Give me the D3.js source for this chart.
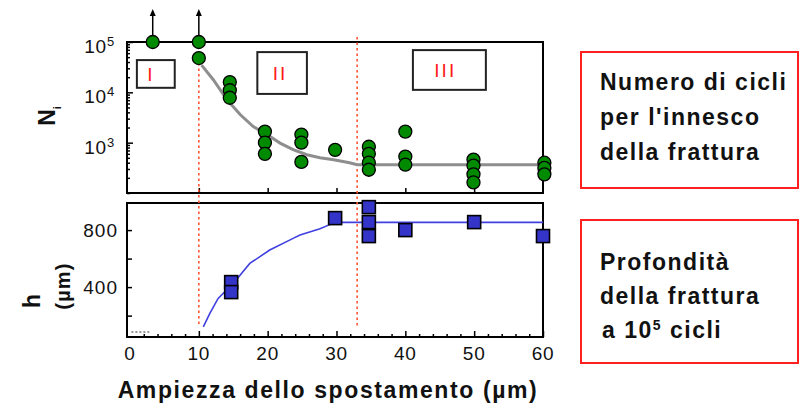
<!DOCTYPE html>
<html><head><meta charset="utf-8">
<script src="https://cdn.jsdelivr.net/npm/d3@7"></script>
<style>body{margin:0;background:#fff}svg{display:block}</style>
</head><body>
<svg id="c" width="801" height="409"></svg>
<script>
// ---------- data ----------
const cyclesX = [3.3, 10, 10, 14.5, 14.5, 14.5, 19.6, 19.6, 19.6, 24.9, 24.9, 24.9, 29.8, 34.7, 34.7, 34.7, 34.7, 40, 40, 40, 49.9, 49.9, 49.9, 49.9, 60.2, 60.2, 60.2];
const cyclesN = [1e5, 1e5, 48000, 16000, 11000, 7800, 1660, 1000, 600, 1450, 1000, 415, 720, 830, 600, 400, 290, 1660, 530, 365, 460, 350, 235, 162, 400, 315, 235];
const runoutX = [3.3, 10];
const runoutN = [1e5, 1e5];
const fitNX = [10.4, 12.1, 14.1, 16.0, 17.9, 19.9, 21.8, 23.7, 25.7, 27.6, 29.6, 31.9, 33.0, 60.2];
const fitNY = [34700, 17800, 7100, 3630, 2090, 1450, 980, 725, 575, 500, 457, 400, 365, 365];
const depthX = [14.7, 14.7, 29.8, 34.7, 34.7, 34.7, 40, 50, 60];
const depthH = [435, 365, 884, 961, 856, 758, 800, 856, 758];
const fitHX = [10.65, 11.6, 12.8, 15.0, 17.4, 20.3, 23.7, 24.7, 27.6, 29.1, 30.0, 60];
const fitHY = [121, 215, 321, 426, 566, 660, 742, 765, 810, 840, 854, 854];
const xTicks = [0, 10, 20, 30, 40, 50, 60];
const xTickLabels = ["0", "10", "20", "30", "40", "50", "60"];
const nTicks = [1e3, 1e4, 1e5];
const nTickExp = ["3", "4", "5"];
const hTicks = [400, 800];
const hTickLabels = ["400", "800"];
const hMinor = [200, 600];
const regionNames = ["I", "II", "III"];
const regionX0 = [1.0, 18.5, 41.1];
const regionX1 = [6.5, 25.7, 51.7];
const regionN0 = [43700, 63000, 69000];
const regionN1 = [12300, 9300, 11200];
const regionLabelX = [3.05, 21.8, 45.8];
const boundaryX = [10.0, 33.0];
const xTitle = "Ampiezza dello spostamento (\u00b5m)";
const box1Lines = ["Numero di cicli", "per l'innesco", "della frattura"];
const box2Lines = ["Profondit\u00e0", "della frattura"];

// ---------- layout ----------
const svg = d3.select("#c");
const L = 127, R = 543;
const topY0 = 42, topY1 = 193, botY0 = 203, botY1 = 337;
const x = d3.scaleLinear().domain([0, 60]).range([130, 543]);
const yN = d3.scaleLog().domain([100, 1e5]).range([topY1, topY0]);
const yH = d3.scaleLinear().domain([50, 990]).range([botY1, botY0]);
const FONT = "'Liberation Sans', Arial, sans-serif";

// frames
svg.append("rect").attr("x", L).attr("y", topY0).attr("width", R - L).attr("height", topY1 - topY0)
  .attr("fill", "none").attr("stroke", "#000").attr("stroke-width", 2);
svg.append("rect").attr("x", L).attr("y", botY0).attr("width", R - L).attr("height", botY1 - botY0)
  .attr("fill", "none").attr("stroke", "#000").attr("stroke-width", 2);

// ---------- axes (ticks inward) ----------
function styleAxis(g) {
  g.select(".domain").remove();
  g.selectAll("line").attr("stroke", "#000").attr("stroke-width", 1.5);
  g.selectAll("text").remove();
}
// top panel log axis
const allLog = yN.ticks();
const minorLog = allLog.filter(v => nTicks.indexOf(v) < 0);
svg.append("g").attr("transform", `translate(${L},0)`)
  .call(d3.axisLeft(yN).tickValues(minorLog).tickSizeInner(-3).tickSizeOuter(0)).call(styleAxis);
svg.append("g").attr("transform", `translate(${L},0)`)
  .call(d3.axisLeft(yN).tickValues(nTicks).tickSizeInner(-6).tickSizeOuter(0)).call(styleAxis);
svg.append("g").attr("transform", `translate(0,${topY1})`)
  .call(d3.axisBottom(x).tickValues([10, 20, 30, 40, 50]).tickSizeInner(-5).tickSizeOuter(0)).call(styleAxis);
// bottom panel
svg.append("g").attr("transform", `translate(${L},0)`)
  .call(d3.axisLeft(yH).tickValues(hTicks.concat(hMinor)).tickSizeInner(-5).tickSizeOuter(0)).call(styleAxis);
const minorX = d3.range(2, 60, 2).filter(v => v % 10 !== 0);
svg.append("g").attr("transform", `translate(0,${botY1})`)
  .call(d3.axisBottom(x).tickValues(minorX).tickSizeInner(-3).tickSizeOuter(0)).call(styleAxis);
svg.append("g").attr("transform", `translate(0,${botY1})`)
  .call(d3.axisBottom(x).tickValues(xTicks.slice(1)).tickSizeInner(-6).tickSizeOuter(0)).call(styleAxis);

// tick labels
const tickFont = 19;
xTicks.forEach((v, i) => {
  svg.append("text").attr("x", x(v)).attr("y", 360).attr("text-anchor", "middle")
    .attr("font-family", FONT).attr("font-size", tickFont).attr("letter-spacing", 0.8)
    .attr("fill", "#111").text(xTickLabels[i]);
});
nTicks.forEach((v, i) => {
  const t = svg.append("text").attr("x", 115).attr("y", yN(v) + 11).attr("text-anchor", "end")
    .attr("font-family", FONT).attr("font-size", tickFont).attr("fill", "#111").attr("letter-spacing", 0.8);
  t.append("tspan").text("10");
  t.append("tspan").attr("font-size", 13).attr("dy", -7).text(nTickExp[i]);
});
hTicks.forEach((v, i) => {
  svg.append("text").attr("x", 118).attr("y", yH(v) + 7).attr("text-anchor", "end")
    .attr("font-family", FONT).attr("font-size", tickFont).attr("letter-spacing", 1)
    .attr("fill", "#111").text(hTickLabels[i]);
});

// axis titles
svg.append("text").attr("x", 328).attr("y", 398).attr("text-anchor", "middle")
  .attr("font-family", FONT).attr("font-weight", "bold").attr("font-size", 23)
  .attr("letter-spacing", 1.6).attr("fill", "#111").text(xTitle);
const nl = svg.append("text").attr("transform", "translate(55,116) rotate(-90)").attr("text-anchor", "middle")
  .attr("font-family", FONT).attr("font-weight", "bold").attr("font-size", 23).attr("fill", "#111");
nl.append("tspan").text("N");
nl.append("tspan").attr("font-size", 11).attr("dy", 6).text("i");
svg.append("text").attr("transform", "translate(40,301) rotate(-90)").attr("text-anchor", "middle")
  .attr("font-family", FONT).attr("font-weight", "bold").attr("font-size", 23).attr("fill", "#111").text("h");
svg.append("text").attr("transform", "translate(70,286) rotate(-90)").attr("text-anchor", "middle")
  .attr("font-family", FONT).attr("font-weight", "bold").attr("font-size", 20).attr("letter-spacing", 1.2)
  .attr("fill", "#111").text("(\u00b5m)");

// region boxes
regionNames.forEach((nm, i) => {
  svg.append("rect").attr("x", x(regionX0[i])).attr("y", yN(regionN0[i]))
    .attr("width", x(regionX1[i]) - x(regionX0[i])).attr("height", yN(regionN1[i]) - yN(regionN0[i]))
    .attr("fill", "#fff").attr("stroke", "#222").attr("stroke-width", 2);
  svg.append("text").attr("x", x(regionLabelX[i])).attr("y", (yN(regionN0[i]) + yN(regionN1[i])) / 2 + 7)
    .attr("text-anchor", "middle").attr("font-family", FONT).attr("font-size", 19).attr("letter-spacing", 2)
    .attr("fill", "#ff1a1a").text(nm);
});

// boundary dotted lines
svg.append("line").attr("x1", x(boundaryX[0])).attr("x2", x(boundaryX[0])).attr("y1", 63).attr("y2", 327)
  .attr("stroke", "#ff5533").attr("stroke-width", 1.6).attr("stroke-dasharray", "2.5,3");
svg.append("line").attr("x1", x(boundaryX[1])).attr("x2", x(boundaryX[1])).attr("y1", 37).attr("y2", 327)
  .attr("stroke", "#ff5533").attr("stroke-width", 1.6).attr("stroke-dasharray", "2.5,3");

// fit curves
const lineN = d3.line().x(d => x(d[0])).y(d => yN(d[1]));
svg.append("path").datum(d3.zip(fitNX, fitNY)).attr("d", lineN)
  .attr("fill", "none").attr("stroke", "#8e8e8e").attr("stroke-width", 3);
const lineH = d3.line().x(d => x(d[0])).y(d => yH(d[1]));
svg.append("path").datum(d3.zip(fitHX, fitHY)).attr("d", lineH)
  .attr("fill", "none").attr("stroke", "#4040e0").attr("stroke-width", 1.6);
// small artifact at origin
svg.append("path").datum([[0.2, 85], [2.8, 85]]).attr("d", lineH)
  .attr("fill", "none").attr("stroke", "#333").attr("stroke-width", 1.2).attr("stroke-dasharray", "2,2");

// run-out arrows
runoutX.forEach((v, i) => {
  const px = x(v), py = yN(runoutN[i]);
  svg.append("line").attr("x1", px).attr("x2", px).attr("y1", py).attr("y2", py - 30)
    .attr("stroke", "#000").attr("stroke-width", 1.5);
  svg.append("path").attr("d", `M${px - 3},${py - 26} L${px},${py - 33} L${px + 3},${py - 26} Z`).attr("fill", "#000");
});

// green circles
svg.append("g").selectAll("circle").data(d3.zip(cyclesX, cyclesN)).join("circle")
  .attr("cx", d => x(d[0])).attr("cy", d => yN(d[1])).attr("r", 6.5)
  .attr("fill", "#008a00").attr("stroke", "#000").attr("stroke-width", 1.3);

// blue squares
const S = 13;
svg.append("g").selectAll("rect").data(d3.zip(depthX, depthH)).join("rect")
  .attr("x", d => x(d[0]) - S / 2).attr("y", d => yH(d[1]) - S / 2).attr("width", S).attr("height", S)
  .attr("fill", "#3434c8").attr("stroke", "#000").attr("stroke-width", 1.6);

// right-side caption boxes
function captionBox(y0, y1) {
  svg.append("rect").attr("x", 581).attr("y", y0).attr("width", 217).attr("height", y1 - y0)
    .attr("fill", "#fff").attr("stroke", "#ff2020").attr("stroke-width", 2);
}
captionBox(52, 188);
captionBox(220, 363);
const capText = (tx, ty) => svg.append("text").attr("x", tx).attr("y", ty)
  .attr("font-family", FONT).attr("font-weight", "bold").attr("font-size", 23)
  .attr("letter-spacing", 1.5).attr("fill", "#111");
box1Lines.forEach((s, i) => capText(600, 90 + i * 35).text(s));
box2Lines.forEach((s, i) => capText(600, 270 + i * 34).text(s));
const last = capText(602, 338);
last.append("tspan").text("a 10");
last.append("tspan").attr("font-size", 14).attr("dy", -8).text("5");
last.append("tspan").attr("dy", 8).text(" cicli");
</script>
</body></html>
